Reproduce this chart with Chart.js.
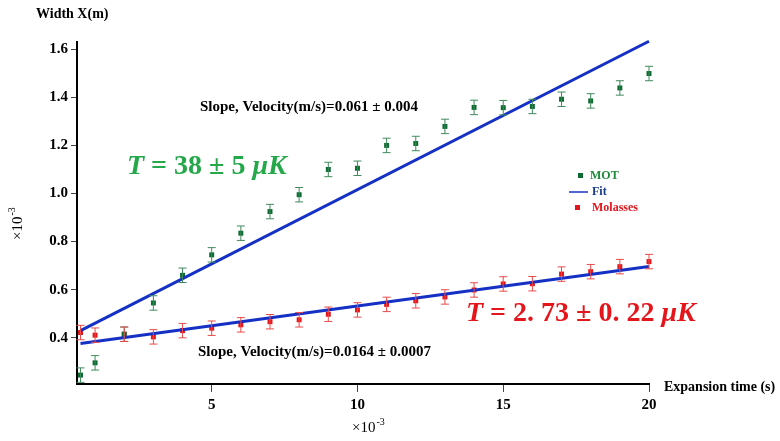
<!DOCTYPE html>
<html>
<head>
<meta charset="utf-8">
<script src="https://cdn.jsdelivr.net/npm/chart.js@4/dist/chart.umd.min.js"></script>
<style>
  body { margin: 0; background: #fff; }
  canvas { display: block; }
</style>
</head>
<body>
<canvas id="grafico" width="780" height="441"></canvas>
<script>
// tempo de expansao (x 10^-3 s)
const tempos = [0.5, 1, 2, 3, 4, 5, 6, 7, 8, 9, 10, 11, 12, 13, 14, 15, 16, 17, 18, 19, 20]
// largura da nuvem (x 10^-3 m)
const motLargura = [0.245, 0.296, 0.415, 0.545, 0.66, 0.745, 0.835, 0.925, 0.995, 1.10, 1.105, 1.2, 1.208, 1.279, 1.358, 1.357, 1.362, 1.392, 1.385, 1.439, 1.499]
const motErro = [0.03, 0.03, 0.03, 0.03, 0.03, 0.03, 0.03, 0.03, 0.03, 0.03, 0.03, 0.03, 0.03, 0.03, 0.03, 0.03, 0.03, 0.03, 0.03, 0.03, 0.03]
const molLargura = [0.422, 0.411, 0.415, 0.404, 0.43, 0.44, 0.454, 0.467, 0.475, 0.498, 0.516, 0.539, 0.554, 0.57, 0.599, 0.624, 0.625, 0.665, 0.675, 0.696, 0.717]
const molErro = [0.03, 0.03, 0.03, 0.03, 0.03, 0.03, 0.03, 0.03, 0.03, 0.03, 0.03, 0.03, 0.03, 0.03, 0.03, 0.03, 0.03, 0.03, 0.03, 0.03, 0.03]
// retas ajustadas (pontas)
const fitX = [0.5, 20]
const motFit = [0.43, 1.633]
const molFit = [0.376, 0.697]
// marcas dos eixos
const xTicks = [5, 10, 15, 20]
const yTicks = [0.4, 0.6, 0.8, 1.0, 1.2, 1.4, 1.6]

const serif = '"Liberation Serif", "Times New Roman", serif'

function pontos(xs, ys) {
  return xs.map((x, i) => ({ x: x, y: ys[i] }))
}

// barras de erro desenhadas pelas escalas do grafico
const barrasErro = {
  id: 'barrasErro',
  afterDatasetsDraw(chart) {
    const ctx = chart.ctx
    const sx = chart.scales.x
    const sy = chart.scales.y
    chart.data.datasets.forEach(ds => {
      if (!ds.erros) return
      ctx.save()
      ctx.strokeStyle = ds.corErro
      ctx.lineWidth = 1
      ds.data.forEach((p, i) => {
        const px = sx.getPixelForValue(p.x)
        const top = sy.getPixelForValue(p.y + ds.erros[i])
        const bot = sy.getPixelForValue(p.y - ds.erros[i])
        ctx.beginPath()
        ctx.moveTo(px, top); ctx.lineTo(px, bot)
        ctx.moveTo(px - 4, top); ctx.lineTo(px + 4, top)
        ctx.moveTo(px - 4, bot); ctx.lineTo(px + 4, bot)
        ctx.stroke()
      })
      ctx.restore()
    })
  }
}

// escreve T = ... com T e uK em italico
function escreveT(ctx, x, y, meio, cor, tam) {
  ctx.fillStyle = cor
  ctx.textBaseline = 'middle'
  ctx.textAlign = 'left'
  ctx.font = 'italic bold ' + tam + 'px ' + serif
  ctx.fillText('T', x, y)
  x += ctx.measureText('T').width
  ctx.font = 'bold ' + tam + 'px ' + serif
  ctx.fillText(meio, x, y)
  x += ctx.measureText(meio).width
  ctx.font = 'italic bold ' + tam + 'px ' + serif
  ctx.fillText('\u03bcK', x, y)
}

function escreveEscala(ctx, x, y) {
  ctx.font = '15px ' + serif
  ctx.textBaseline = 'middle'
  ctx.textAlign = 'left'
  ctx.fillStyle = '#000'
  ctx.fillText('\u00d710', x, y)
  const w = ctx.measureText('\u00d710').width
  ctx.font = '10px ' + serif
  ctx.fillText('-3', x + w + 1, y - 6)
}

const textos = {
  id: 'textos',
  afterDraw(chart) {
    const ctx = chart.ctx
    ctx.save()
    ctx.fillStyle = '#000'
    ctx.textBaseline = 'middle'
    ctx.font = 'bold 14px ' + serif
    ctx.fillText('Width X(m)', 36, 14)
    ctx.fillText('Expansion time (s)', 664, 387)
    ctx.font = 'bold 15px ' + serif
    ctx.fillText('Slope, Velocity(m/s)=0.061 \u00b1 0.004', 200, 107)
    ctx.fillText('Slope, Velocity(m/s)=0.0164 \u00b1 0.0007', 198, 352)

    escreveEscala(ctx, 352, 428)
    ctx.save()
    ctx.translate(18, 240)
    ctx.rotate(-Math.PI / 2)
    escreveEscala(ctx, 0, 0)
    ctx.restore()

    escreveT(ctx, 127, 167, ' = 38 \u00b1 5 ', '#25a84a', 28)
    escreveT(ctx, 466, 314, ' = 2. 73 \u00b1 0. 22 ', '#e4161c', 28)

    // legenda
    ctx.font = 'bold 12px ' + serif
    ctx.fillStyle = '#0b6b30'
    ctx.fillRect(578, 173, 5, 5)
    ctx.fillStyle = '#1e8a3c'
    ctx.fillText('MOT', 590, 176)
    ctx.strokeStyle = '#1a33c0'
    ctx.lineWidth = 1.5
    ctx.beginPath(); ctx.moveTo(569, 192); ctx.lineTo(588, 192); ctx.stroke()
    ctx.fillStyle = '#1a3a8a'
    ctx.fillText('Fit', 592, 192)
    ctx.fillStyle = '#e3161b'
    ctx.fillRect(575, 205, 5, 5)
    ctx.fillText('Molasses', 592, 208)
    ctx.restore()
  }
}

const chart = new Chart(document.getElementById('grafico'), {
  type: 'scatter',
  data: {
    datasets: [
      {
        label: 'MOT',
        data: pontos(tempos, motLargura),
        pointStyle: 'rect',
        pointRadius: 3.5,
        backgroundColor: '#0b6b30',
        borderColor: '#0b6b30',
        borderWidth: 0,
        erros: motErro,
        corErro: '#3f8a5c',
        clip: false,
        order: 2
      },
      {
        label: 'Molasses',
        data: pontos(tempos, molLargura),
        pointStyle: 'rect',
        pointRadius: 3.5,
        backgroundColor: '#e3161b',
        borderColor: '#e3161b',
        borderWidth: 0,
        erros: molErro,
        corErro: '#ea4a4a',
        clip: false,
        order: 2
      },
      {
        type: 'line',
        label: 'Fit MOT',
        data: pontos(fitX, motFit),
        borderColor: '#1530c4',
        borderWidth: 3,
        pointRadius: 0,
        clip: false,
        order: 1
      },
      {
        type: 'line',
        label: 'Fit Molasses',
        data: pontos(fitX, molFit),
        borderColor: '#1530c4',
        borderWidth: 3,
        pointRadius: 0,
        clip: false,
        order: 1
      }
    ]
  },
  options: {
    responsive: false,
    animation: false,
    layout: { padding: { left: 0, right: 131, top: 42, bottom: 0 } },
    plugins: { legend: { display: false }, tooltip: { enabled: false } },
    scales: {
      x: {
        type: 'linear',
        min: 0.38,
        max: 20,
        afterBuildTicks: s => { s.ticks = xTicks.map(v => ({ value: v })) },
        afterFit: s => { s.height = 57 },
        grid: { drawOnChartArea: false, tickLength: 8, color: '#444', lineWidth: 1 },
        border: { color: '#000', width: 2 },
        ticks: { color: '#000', padding: 4, maxRotation: 0, font: { family: serif, weight: 'bold', size: 15 } }
      },
      y: {
        min: 0.208,
        max: 1.63,
        afterBuildTicks: s => { s.ticks = yTicks.map(v => ({ value: v })) },
        afterFit: s => { s.width = 77 },
        grid: { drawOnChartArea: false, tickLength: 6, color: '#444', lineWidth: 1 },
        border: { color: '#000', width: 2 },
        ticks: { color: '#000', padding: 3, font: { family: serif, weight: 'bold', size: 15 }, callback: v => v.toFixed(1) }
      }
    }
  },
  plugins: [barrasErro, textos]
})
</script>
</body>
</html>
